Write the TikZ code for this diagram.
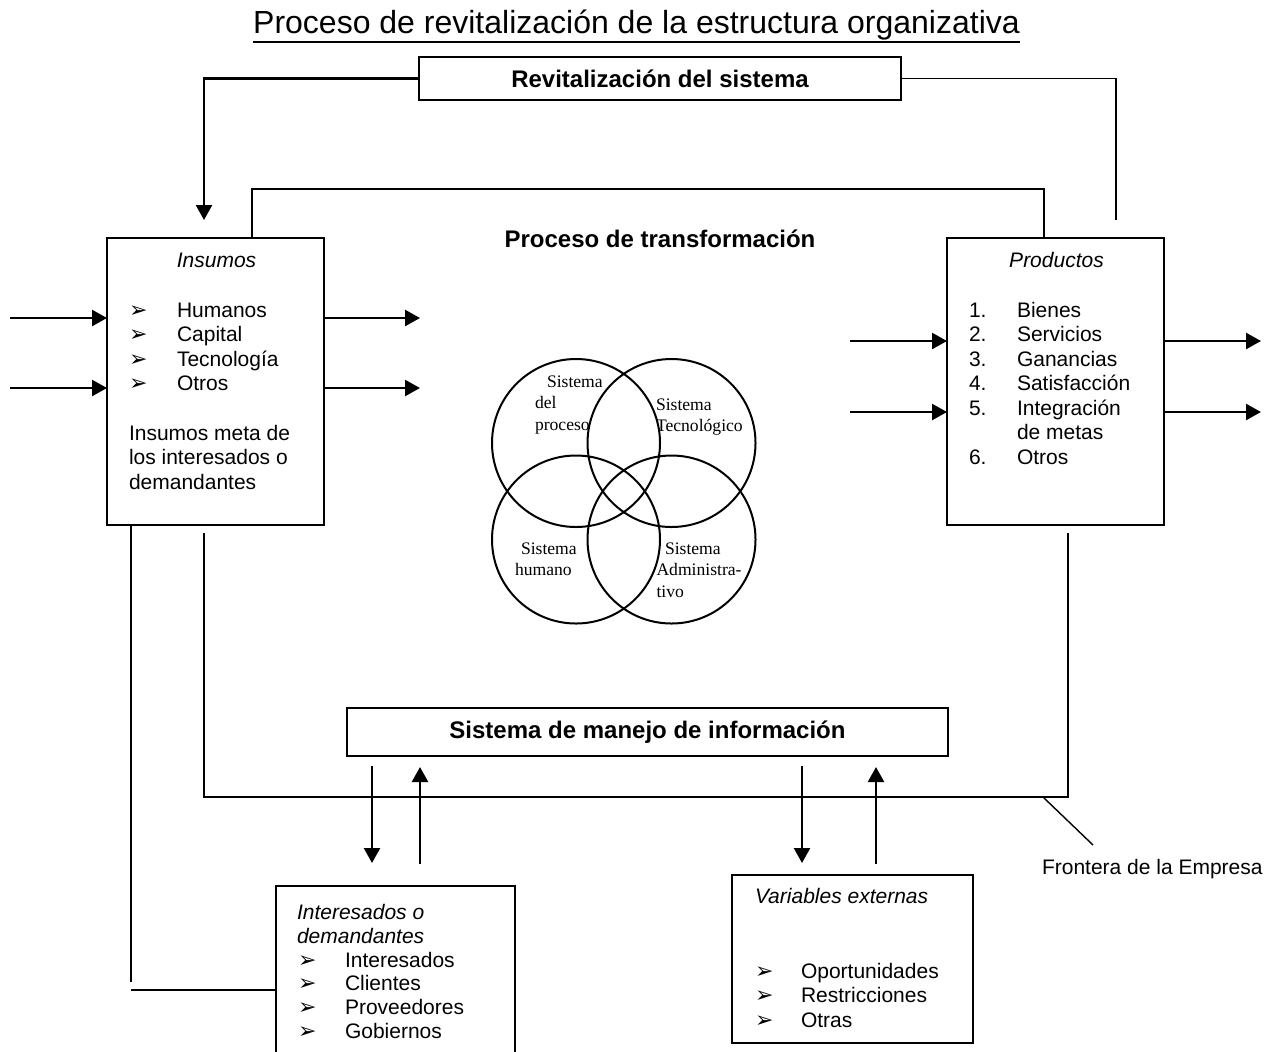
\documentclass[tikz,border=0pt]{standalone}
\usepackage{fontspec}
\setmainfont{Liberation Sans}
\newfontfamily\circfont{Liberation Serif}
\newfontfamily\symfont{DejaVu Sans}
\usetikzlibrary{arrows.meta,fit}

% bullet glyph used in the lists
\newcommand\bulletsym{{\symfont\fontsize{11}{12}\selectfont ➢}}

\begin{document}
\begin{tikzpicture}[x=0.5pt,y=-0.5pt,
  every node/.style={inner sep=0pt,outer sep=0pt},
  frame/.style={draw,line width=1pt,fill=white,rectangle,inner sep=0pt},
  line/.style={line width=0.9pt},
  thinline/.style={line width=0.7pt},
  arr/.style={line width=1.2pt,-{Triangle[length=7.5pt,width=8pt]}},
  txt/.style={font=\fontsize{10.5}{12.25}\selectfont,anchor=base west},
  itx/.style={font=\fontsize{10.5}{12.25}\selectfont\itshape,anchor=base west},
  hd/.style={font=\fontsize{12}{14}\selectfont\bfseries},
  circ/.style={font=\circfont\fontsize{8.8}{10.75}\selectfont,anchor=base west},
  venn/.style={draw,circle,line width=1pt,minimum size=84pt}
]
\useasboundingbox (0,0) rectangle (1277,1051);
\clip (0,0) rectangle (1277,1051);
\fill[white] (0,0) rectangle (1277,1051);

% ---------- title ----------
\node[font=\fontsize{16}{19}\selectfont,anchor=base] (title) at (636.5,33)
  {Proceso de revitalización de la estructura organizativa};
\draw[line width=0.9pt] ([yshift=-4.5pt]title.base west) -- ([yshift=-4.5pt]title.base east);

% ---------- main boxes ----------
\node[frame,hd,minimum width=241pt,minimum height=21.5pt] (revit) at (660,78.5)
  {Revitalización del sistema};
\node[frame,fit={(107,238) (324,525)}] (insumos) {};
\node[frame,fit={(947,238) (1164,525)}] (productos) {};
\node[frame,hd,minimum width=300.5pt,minimum height=24pt] (info) at (647.5,732)
  {Sistema de manejo de información};
\node[frame,fit={(276,886) (515,1070)}] (interes) {};
\node[frame,fit={(732,875) (973,1043)}] (varext) {};

\node[hd] (proc) at (660,239) {Proceso de transformación};

% ---------- revitalisation loop ----------
\coordinate (revTip) at (204,220);
\coordinate (revEnd) at (1116,220);
\draw[arr] (revit.west) -| (revTip);
\draw[line] (revit.east) -| (revEnd);

% ---------- company boundary ----------
\coordinate (ftl) at (252,189);
\coordinate (ftr) at (1044,189);
\draw[line] (ftl |- insumos.north) -- (ftl) -- (ftr) -- (ftr |- productos.north);
\coordinate (fbl0) at (204,533);
\coordinate (fbr0) at (1068,533);
\coordinate (fbl) at (204,797);
\coordinate (fbr) at (1068,797);
\draw[line] (fbl0) -- (fbl) -- (fbr) -- (fbr0);

% boundary label
\coordinate (fr0) at (1043,797);
\coordinate (fr1) at (1093,845);
\draw[thinline] (fr0) -- (fr1);
\node[txt] (frontera) at (1042,874) {Frontera de la Empresa};

% ---------- link from inputs to stakeholders ----------
\coordinate (lk1) at (131,982);
\coordinate (lk2) at (131,990);
\draw[line] (lk1 |- insumos.south) -- (lk1);
\draw[line] (lk2) -- (lk2 -| interes.west);

% ---------- flow arrows at the boxes ----------
\foreach \yy [count=\k] in {318,388}{
  \coordinate (inA\k) at (10,\yy);
  \coordinate (outA\k) at (420,\yy);
  \draw[arr] (inA\k) -- (inA\k -| insumos.west);
  \draw[arr] (outA\k -| insumos.east) -- (outA\k);
}
\foreach \yy [count=\k] in {341,412}{
  \coordinate (inB\k) at (850,\yy);
  \coordinate (outB\k) at (1261,\yy);
  \draw[arr] (inB\k) -- (inB\k -| productos.west);
  \draw[arr] (outB\k -| productos.east) -- (outB\k);
}

% ---------- information exchange arrows ----------
\coordinate (d1a) at (372,766); \coordinate (d1b) at (372,863);
\coordinate (u1a) at (420,864); \coordinate (u1b) at (420,767);
\coordinate (d2a) at (802,766); \coordinate (d2b) at (802,863);
\coordinate (u2a) at (876,864); \coordinate (u2b) at (876,767);
\draw[arr] (d1a) -- (d1b);
\draw[arr] (u1a) -- (u1b);
\draw[arr] (d2a) -- (d2b);
\draw[arr] (u2a) -- (u2b);

% ---------- Venn diagram ----------
\node[venn] (cTL) at (576,443) {};
\node[venn] (cTR) at (671.5,443) {};
\node[venn] (cBL) at (576,539.5) {};
\node[venn] (cBR) at (671.5,539.5) {};

\node[circ] (tl1) at (547,387) {Sistema};
\node[circ] (tl2) at (535,408.5) {del};
\node[circ] (tl3) at (535,430) {proceso};
\node[circ] (tr1) at (656,410) {Sistema};
\node[circ] (tr2) at (656,431.5) {Tecnológico};
\node[circ] (bl1) at (521,554.5) {Sistema};
\node[circ] (bl2) at (515,575.5) {humano};
\node[circ] (br1) at (665,554.5) {Sistema};
\node[circ] (br2) at (656.5,575.5) {Administra-};
\node[circ] (br3) at (656.5,597) {tivo};

% ---------- Insumos contents ----------
\node[itx,anchor=base] (insT) at (216.5,267) {Insumos};
\foreach \t [count=\i from 0] in {Humanos,Capital,Tecnología,Otros}{
  \node[txt] (insb\i) at (129,{317+24.5*\i}) {\bulletsym};
  \node[txt] (insi\i) at (177,{317+24.5*\i}) {\t};
}
\foreach \t [count=\i from 0] in {Insumos meta de,los interesados o,demandantes}{
  \node[txt] (insm\i) at (129,{440+24.5*\i}) {\t};
}

% ---------- Productos contents ----------
\node[itx,anchor=base] (prodT) at (1056.5,267) {Productos};
\foreach \n/\t [count=\i from 0] in {1./Bienes,2./Servicios,3./Ganancias,4./Satisfacción,5./Integración,/de metas,6./Otros}{
  \node[txt] (prn\i) at (969,{317+24.5*\i}) {\n};
  \node[txt] (prt\i) at (1017,{317+24.5*\i}) {\t};
}

% ---------- Interesados contents ----------
\node[itx] (intT1) at (297,919) {Interesados o};
\node[itx] (intT2) at (297,943) {demandantes};
\foreach \t [count=\i from 0] in {Interesados,Clientes,Proveedores,Gobiernos}{
  \node[txt] (intb\i) at (298,{967+23.7*\i}) {\bulletsym};
  \node[txt] (inti\i) at (345,{967+23.7*\i}) {\t};
}

% ---------- external variables contents ----------
\node[itx] (varT) at (755,903) {Variables externas};
\foreach \t [count=\i from 0] in {Oportunidades,Restricciones,Otras}{
  \node[txt] (varb\i) at (755,{978+24.5*\i}) {\bulletsym};
  \node[txt] (vari\i) at (801,{978+24.5*\i}) {\t};
}
\end{tikzpicture}
\end{document}
